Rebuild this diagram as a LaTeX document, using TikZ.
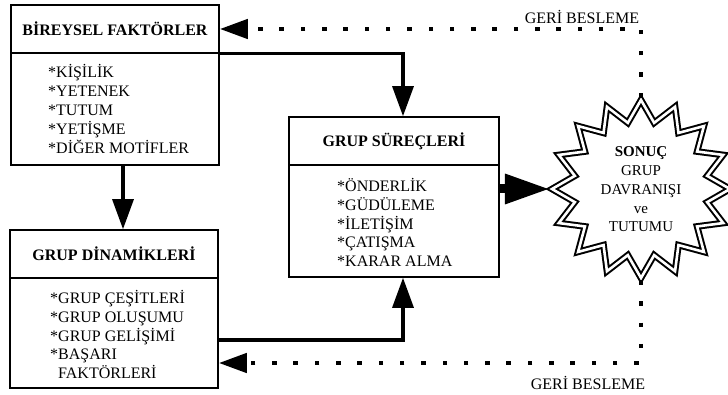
\documentclass[tikz,border=0pt]{standalone}
\usepackage{fontspec}
\setmainfont{Liberation Serif}
\usetikzlibrary{arrows.meta,shapes.geometric}

\begin{document}
\begin{tikzpicture}[x=1pt,y=-1pt,
  box/.style={draw, line width=1.6pt, rectangle, minimum width=208pt, inner sep=0pt},
  headtext/.style={font=\fontsize{16}{18}\selectfont\bfseries},
  listtext/.style={font=\fontsize{16}{18.8}\selectfont, align=left, inner sep=0pt, anchor=west},
  conn/.style={line width=3.2pt, -{Triangle[length=30pt,width=21pt]}},
  bigarrow/.style={line width=9pt, -{Triangle[length=45pt,width=28pt]}},
  fb/.style={line width=4.5pt, dash pattern=on 4.5pt off 16.8pt, -{Triangle[length=28pt,width=19pt]}},
  note/.style={font=\fontsize{16}{18}\selectfont, inner sep=0pt},
  burst/.style={star, star points=16, star point ratio=1.32, minimum size=178pt,
    inner sep=0pt, draw, line width=2pt, double=white, double distance=2.6pt, line join=miter},
  bursttext/.style={align=center, inner sep=0pt, font=\fontsize{15}{18.7}\selectfont},
]
\useasboundingbox (0,0) rectangle (728,395);

% individual factors
\node[box, minimum height=48pt, headtext] (b1t) at (115,29) {BİREYSEL FAKTÖRLER};
\node[box, minimum height=112pt] (b1b) at (115,109) {};
\node[listtext] (b1list) at (48,109) {*KİŞİLİK\\*YETENEK\\*TUTUM\\*YETİŞME\\*DİĞER MOTİFLER};

% group dynamics
\node[box, minimum height=48pt, headtext] (b2t) at (114,254) {GRUP DİNAMİKLERİ};
\node[box, minimum height=110pt] (b2b) at (114,333) {};
\node[listtext] (b2list) at (50,334.5) {*GRUP ÇEŞİTLERİ\\*GRUP OLUŞUMU\\*GRUP GELİŞİMİ\\*BAŞARI\\\phantom{*}FAKTÖRLERİ};

% group processes
\node[box, minimum width=210pt, minimum height=48pt, headtext] (b3t) at (394,141) {GRUP SÜREÇLERİ};
\node[box, minimum width=210pt, minimum height=112pt] (b3b) at (394,221) {};
\node[listtext] (b3list) at (337,222.5) {*ÖNDERLİK\\*GÜDÜLEME\\*İLETİŞİM\\*ÇATIŞMA\\*KARAR ALMA};

% outcome burst
\node[burst] (star) at (641,189) {};
\node[bursttext] (startext) at (641,189.5) {\textbf{SONUÇ}\\GRUP\\DAVRANIŞI\\ve\\TUTUMU};

% solid connectors
\coordinate (c12) at (123,0);
\coordinate (j23) at (0,340);
\draw[conn] (b1t.south east) -| ([xshift=9pt]b3t.north);
\draw[conn] (b1b.south -| c12) -- (b2t.north -| c12);
\draw[conn] (b2b.east |- j23) -| ([xshift=9pt]b3b.south);
\draw[bigarrow] (b3b.east |- star.west) -- (star.west);

% feedback loops
\coordinate (fbB) at (0,363);
\draw[fb] (star.north) |- (b1t.east);
\draw[fb] (star.south) |- (b2b.east |- fbB);
\node[note] (gbtop) at (582,17) {GERİ BESLEME};
\node[note] (gbbot) at (588,383) {GERİ BESLEME};
\end{tikzpicture}
\end{document}
